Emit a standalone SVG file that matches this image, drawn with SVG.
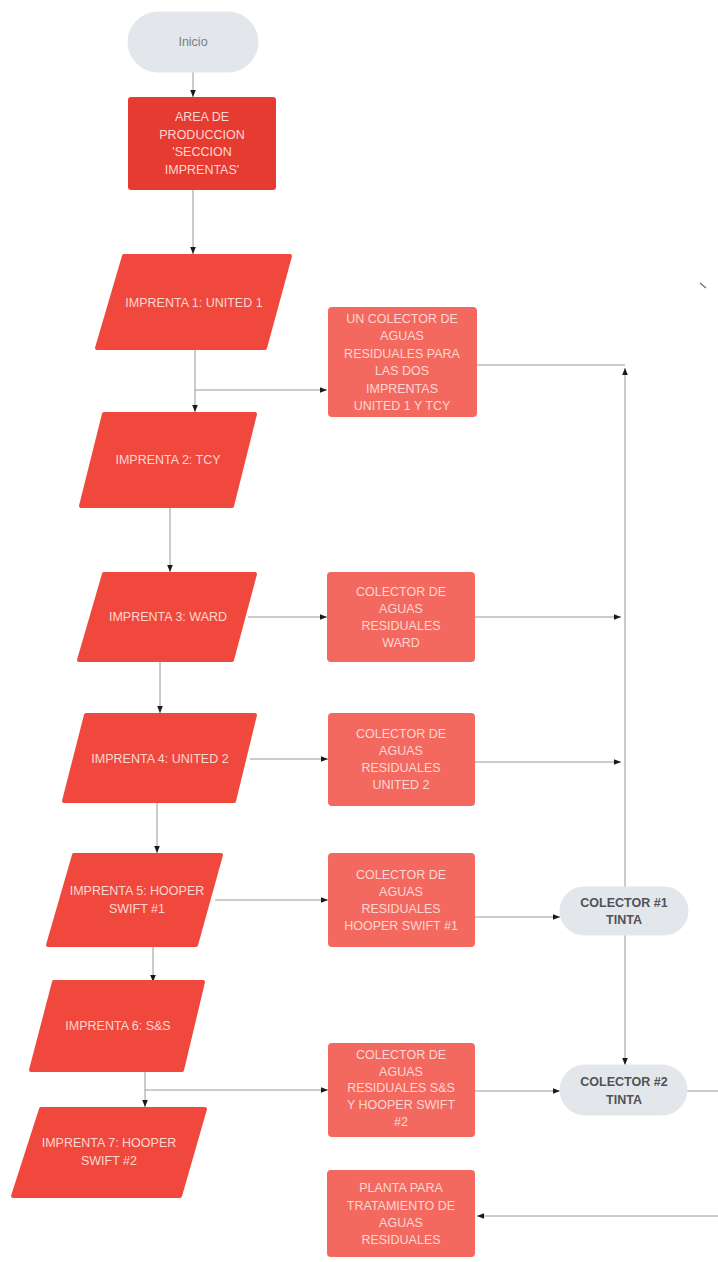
<svg xmlns="http://www.w3.org/2000/svg" width="718" height="1262" viewBox="0 0 718 1262">
<defs>
<marker id="ah" viewBox="0 0 10 10" refX="10" refY="5" markerWidth="7" markerHeight="7" orient="auto" markerUnits="userSpaceOnUse">
<path d="M0,1 L10,5 L0,9 Z" fill="#1a1a1a"/>
</marker>
</defs>
<style>
text{font-family:"Liberation Sans",Arial,sans-serif;font-size:12.5px;text-anchor:middle}
.w{fill:#fcd7d2}
.g{fill:#4f5357;font-weight:bold}
.gi{fill:#7a7f84}
.pill{fill:#e3e7eb;stroke:#e3e7eb;stroke-width:1}
.main{fill:#e53b31}
.par{fill:#f1483e;stroke:#f1483e;stroke-width:4;stroke-linejoin:round}
.col{fill:#f4695f}
.ln{fill:none;stroke:#8c8c8c;stroke-width:0.9}
.arr{marker-end:url(#ah)}
</style>
<rect width="718" height="1262" fill="#ffffff"/>

<g id="connectors">
<path class="ln arr" d="M193,72 V97"/>
<path class="ln arr" d="M193,190 V254"/>
<path class="ln arr" d="M195,350 V412"/>
<path class="ln arr" d="M195,390 H327"/>
<path class="ln" d="M477,365 H625"/>
<path class="ln arr" d="M170,508 V572"/>
<path class="ln arr" d="M248,617 H327"/>
<path class="ln arr" d="M160,662 V713"/>
<path class="ln arr" d="M475,617 H621"/>
<path class="ln arr" d="M250,759 H328"/>
<path class="ln arr" d="M157,803 V853"/>
<path class="ln arr" d="M475,762 H621"/>
<path class="ln arr" d="M215,900 H328"/>
<path class="ln arr" d="M153,947 V982"/>
<path class="ln arr" d="M475,917 H560"/>
<path class="ln arr" d="M625,887 V368"/>
<path class="ln arr" d="M625,935 V1065"/>
<path class="ln arr" d="M145,1072 V1107"/>
<path class="ln arr" d="M145,1090 H328"/>
<path class="ln arr" d="M475,1091 H560"/>
<path class="ln" d="M687,1091 H718"/>
<path class="ln arr" d="M718,1216 H477"/>
<path d="M700,283 L706,288" stroke="#8a5a50" stroke-width="1.2"/>
</g>

<g id="inicio">
<rect class="pill" x="128" y="12" width="130" height="60" rx="30"/>
<text class="gi" x="193" y="46">Inicio</text>
</g>

<g id="area">
<rect class="main" x="128" y="97" width="148" height="93" rx="3"/>
<text class="w" x="202" y="121">AREA DE</text>
<text class="w" x="202" y="139">PRODUCCION</text>
<text class="w" x="202" y="156">'SECCION</text>
<text class="w" x="202" y="174">IMPRENTAS'</text>
</g>

<g id="imprenta1">
<polygon class="par" points="124,256 290,256 265,348 97,348"/>
<text class="w" x="194" y="307">IMPRENTA 1: UNITED 1</text>
</g>

<g id="colector-united1-tcy">
<rect class="col" x="328" y="307" width="149" height="110" rx="4"/>
<text class="w" x="402" y="323">UN COLECTOR DE</text>
<text class="w" x="402" y="340">AGUAS</text>
<text class="w" x="402" y="358">RESIDUALES PARA</text>
<text class="w" x="402" y="375">LAS DOS</text>
<text class="w" x="402" y="393">IMPRENTAS</text>
<text class="w" x="402" y="410">UNITED 1 Y TCY</text>
</g>

<g id="imprenta2">
<polygon class="par" points="104,414 255,414 232,506 81,506"/>
<text class="w" x="168" y="464">IMPRENTA 2: TCY</text>
</g>

<g id="imprenta3">
<polygon class="par" points="104,574 255,574 232,660 79,660"/>
<text class="w" x="168" y="621">IMPRENTA 3: WARD</text>
</g>

<g id="colector-ward">
<rect class="col" x="327" y="572" width="148" height="90" rx="4"/>
<text class="w" x="401" y="596">COLECTOR DE</text>
<text class="w" x="401" y="613">AGUAS</text>
<text class="w" x="401" y="630">RESIDUALES</text>
<text class="w" x="401" y="647">WARD</text>
</g>

<g id="imprenta4">
<polygon class="par" points="86,715 255,715 234,801 64,801"/>
<text class="w" x="160" y="763">IMPRENTA 4: UNITED 2</text>
</g>

<g id="colector-united2">
<rect class="col" x="328" y="713" width="147" height="93" rx="4"/>
<text class="w" x="401" y="738">COLECTOR DE</text>
<text class="w" x="401" y="755">AGUAS</text>
<text class="w" x="401" y="772">RESIDUALES</text>
<text class="w" x="401" y="789">UNITED 2</text>
</g>

<g id="imprenta5">
<polygon class="par" points="74,855 221,855 196,945 48,945"/>
<text class="w" x="137" y="895">IMPRENTA 5: HOOPER</text>
<text class="w" x="137" y="913">SWIFT #1</text>
</g>

<g id="colector-hooper1">
<rect class="col" x="328" y="853" width="147" height="94" rx="4"/>
<text class="w" x="401" y="879">COLECTOR DE</text>
<text class="w" x="401" y="896">AGUAS</text>
<text class="w" x="401" y="913">RESIDUALES</text>
<text class="w" x="401" y="930">HOOPER SWIFT #1</text>
</g>

<g id="colector1-tinta">
<rect class="pill" x="560" y="887" width="128" height="48" rx="24"/>
<text class="g" x="624" y="907">COLECTOR #1</text>
<text class="g" x="624" y="924">TINTA</text>
</g>

<g id="imprenta6">
<polygon class="par" points="54,982 203,982 182,1070 31,1070"/>
<text class="w" x="118" y="1030">IMPRENTA 6: S&amp;S</text>
</g>

<g id="colector-ss-hooper2">
<rect class="col" x="328" y="1043" width="147" height="94" rx="4"/>
<text class="w" x="401" y="1059">COLECTOR DE</text>
<text class="w" x="401" y="1076">AGUAS</text>
<text class="w" x="401" y="1092">RESIDUALES S&amp;S</text>
<text class="w" x="401" y="1109">Y HOOPER SWIFT</text>
<text class="w" x="401" y="1126">#2</text>
</g>

<g id="colector2-tinta">
<rect class="pill" x="560" y="1065" width="127" height="50" rx="25"/>
<text class="g" x="624" y="1086">COLECTOR #2</text>
<text class="g" x="624" y="1104">TINTA</text>
</g>

<g id="imprenta7">
<polygon class="par" points="41,1109 205,1109 180,1196 13,1196"/>
<text class="w" x="109" y="1147">IMPRENTA 7: HOOPER</text>
<text class="w" x="109" y="1165">SWIFT #2</text>
</g>

<g id="planta">
<rect class="col" x="327" y="1170" width="148" height="87" rx="4"/>
<text class="w" x="401" y="1192">PLANTA PARA</text>
<text class="w" x="401" y="1210">TRATAMIENTO DE</text>
<text class="w" x="401" y="1227">AGUAS</text>
<text class="w" x="401" y="1244">RESIDUALES</text>
</g>
</svg>
